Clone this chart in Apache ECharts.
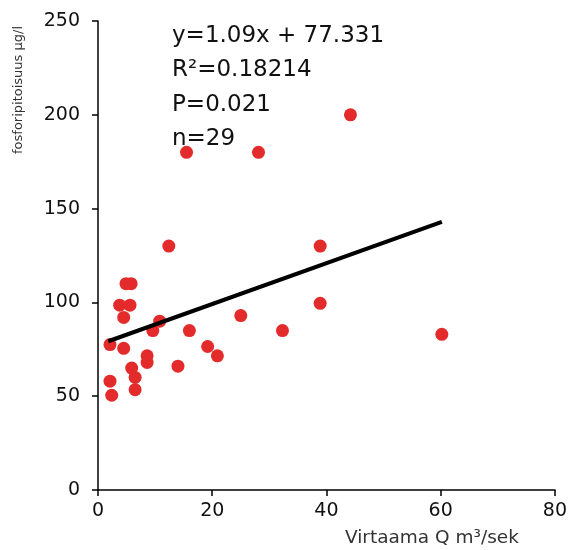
<!DOCTYPE html>
<html>
<head>
<meta charset="utf-8">
<script src="https://cdn.jsdelivr.net/npm/echarts@6/dist/echarts.min.js"></script>
<style>
html,body{margin:0;padding:0;background:#fff;}
#chart{width:570px;height:550px;}
</style>
</head>
<body>
<div id="chart"></div>
<script>
// Data
var flowQ = [2.1, 2.1, 2.4, 3.8, 4.5, 4.5, 4.9, 5.8, 5.6, 5.9, 6.5, 6.5, 8.6, 8.6, 9.6, 10.8, 12.4, 14.0, 15.5, 16.0, 19.2, 20.9, 25.0, 28.1, 32.3, 38.9, 38.9, 44.2, 60.2];
var phosphorus = [77.5, 58, 50.5, 98.5, 92, 75.5, 110, 110, 98.5, 65, 60, 53.5, 71.5, 68, 85, 90, 130, 66, 180, 85, 76.5, 71.5, 93, 180, 85, 130, 99.5, 200, 83];
var trendSlope = 1.09;
var trendIntercept = 77.331;
var trendX = [1.8, 60.2];
var statLines = ['y=1.09x + 77.331', 'R\u00b2=0.18214', 'P=0.021', 'n=29'];
var xTicks = [0, 20, 40, 60, 80];
var yTicks = [0, 50, 100, 150, 200, 250];
var xTitle = 'Virtaama Q m\u00b3/sek';
var yTitle = 'fosforipitoisuus \u00b5g/l';

var points = flowQ.map(function (x, i) { return [x, phosphorus[i]]; });
var trend = trendX.map(function (x) { return [x, trendSlope * x + trendIntercept]; });

var chart = echarts.init(document.getElementById('chart'), null, {renderer: 'canvas'});
var font = 'DejaVu Sans';
var graphics = statLines.map(function (t, i) {
  return {
    type: 'text', x: 172, y: 36 + i * 34.5,
    style: {text: t, font: '23px "DejaVu Sans"', fill: '#111', textVerticalAlign: 'middle'}
  };
});
graphics.push({
  type: 'text', x: 19, y: 90, rotation: Math.PI / 2,
  style: {text: yTitle, font: '13px "DejaVu Sans"', fill: '#333', textAlign: 'center', textVerticalAlign: 'middle'}
});

chart.setOption({
  animation: false,
  grid: {left: 98, right: 13, top: 21, bottom: 60},
  xAxis: {
    type: 'value', min: xTicks[0], max: xTicks[xTicks.length - 1], interval: 20,
    splitLine: {show: false},
    axisLine: {lineStyle: {color: '#000', width: 1.5}},
    axisTick: {show: true, length: 6, lineStyle: {color: '#000', width: 1.5}},
    axisLabel: {color: '#111', fontFamily: font, fontSize: 19, margin: 12},
    name: xTitle, nameLocation: 'end', nameGap: -36,
    nameTextStyle: {color: '#333', fontFamily: font, fontSize: 18.5, align: 'right', verticalAlign: 'top', padding: [39, 0, 0, 0]}
  },
  yAxis: {
    type: 'value', min: yTicks[0], max: yTicks[yTicks.length - 1], interval: 50,
    splitLine: {show: false},
    axisLine: {show: true, lineStyle: {color: '#000', width: 1.5}},
    axisTick: {show: true, length: 6, lineStyle: {color: '#000', width: 1.5}},
    axisLabel: {color: '#111', fontFamily: font, fontSize: 19, margin: 18}
  },
  graphic: graphics,
  series: [
    {
      type: 'scatter', data: points, symbolSize: 13,
      itemStyle: {color: '#e32b2b', opacity: 1}
    },
    {
      type: 'line', data: trend, symbol: 'none',
      lineStyle: {color: '#000', width: 4}, z: 3
    }
  ]
});
</script>
</body>
</html>
